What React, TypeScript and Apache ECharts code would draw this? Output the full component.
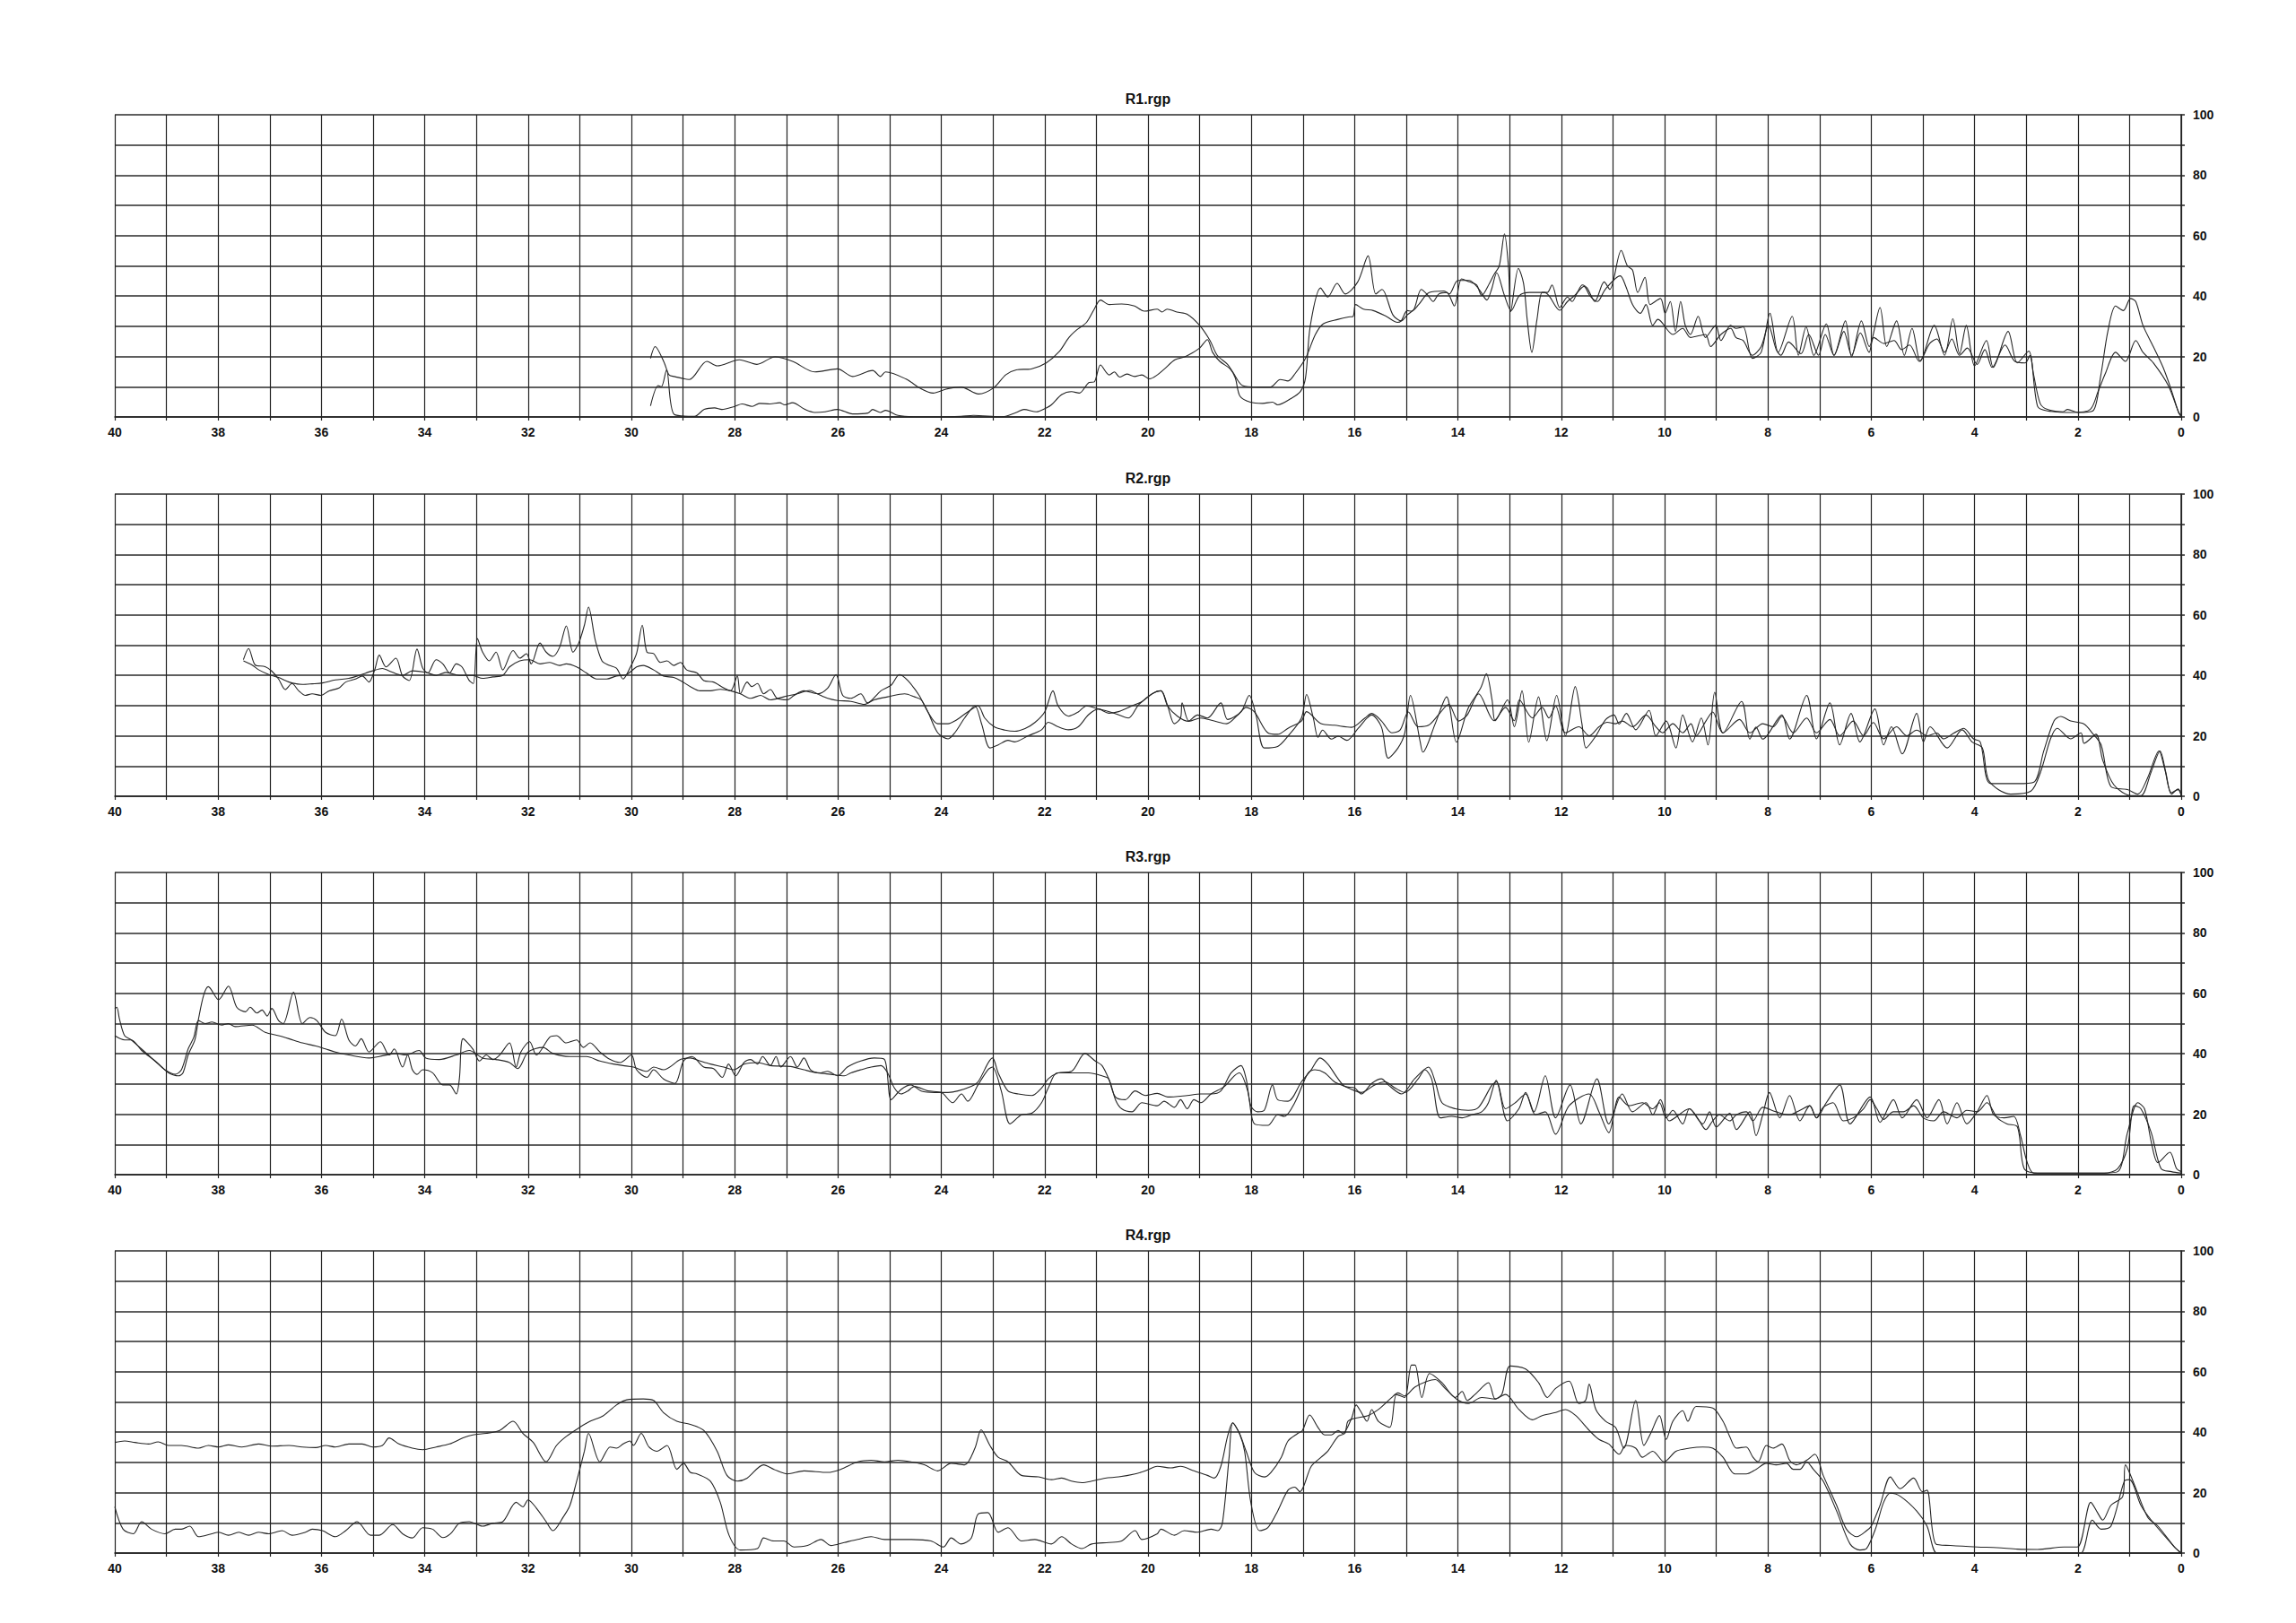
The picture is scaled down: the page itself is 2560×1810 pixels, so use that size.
import { useEffect, useRef } from 'react'
import * as echarts from 'echarts'

type Pt = [number, number]

// titles of the four traces
const panelNames = ['R1.rgp', 'R2.rgp', 'R3.rgp', 'R4.rgp']

// R1: [time, value]
const r1a: Pt[] = [
  [29.63, 19.4], [29.54, 23.3], [29.37, 18.2], [29.27, 13.9], [29.17, 13.4], [28.88, 12.4], [28.54, 18.4], [28.34, 16.9],
  [27.91, 18.9], [27.57, 17.4], [27.22, 19.9], [26.88, 18.4], [26.45, 14.9], [26.01, 15.9], [25.72, 13.4], [25.33, 15.4],
  [25.18, 13.4], [25.08, 14.9], [24.69, 12.6], [24.4, 9.4], [24.16, 7.9], [23.91, 9.2], [23.62, 9.9], [23.28, 7.6],
  [22.99, 9.6], [22.75, 14.0], [22.55, 15.6], [22.26, 15.9], [21.97, 17.9], [21.72, 21.6], [21.53, 26.3], [21.38, 28.8],
  [21.19, 31.3], [21.04, 35.7], [20.92, 38.7], [20.75, 37.2], [20.51, 37.4], [20.26, 36.7], [20.07, 35.0], [19.82, 35.7],
  [19.73, 34.7], [19.63, 35.7], [19.44, 34.7], [19.24, 34.0], [19.0, 30.3], [18.8, 25.3], [18.66, 20.4], [18.46, 17.4],
  [18.36, 14.9], [18.17, 10.4], [17.88, 9.9], [17.63, 9.9], [17.44, 12.4], [17.29, 11.9], [17.15, 14.4], [16.95, 19.4],
  [16.76, 27.3], [16.61, 30.8], [16.32, 32.3], [16.12, 33.1], [16.03, 33.3], [15.98, 37.2], [15.83, 35.7], [15.64, 35.2],
  [15.39, 33.3], [15.17, 31.3], [15.1, 31.8], [14.98, 35.2], [14.9, 35.0], [14.76, 37.2], [14.56, 41.2], [14.27, 41.7],
  [14.17, 40.7], [14.0, 45.2], [13.78, 45.2], [13.59, 42.2], [13.44, 38.7], [13.35, 42.2], [13.25, 47.7], [13.1, 40.2],
  [12.97, 35.2], [12.81, 40.2], [12.61, 41.2], [12.32, 41.2], [12.03, 35.3], [11.88, 38.2], [11.74, 40.2], [11.56, 43.2],
  [11.45, 40.2], [11.3, 38.2], [11.15, 42.2], [10.86, 46.7], [10.75, 43.2], [10.62, 37.2], [10.47, 34.3], [10.36, 37.2],
  [10.23, 30.3], [10.13, 32.3], [9.84, 27.3], [9.65, 29.3], [9.5, 26.3], [9.21, 27.3], [9.11, 23.3], [8.91, 27.3],
  [8.72, 29.3], [8.62, 26.3], [8.48, 25.3], [8.3, 20.4], [8.13, 23.3], [7.99, 30.3], [7.84, 22.3], [7.75, 20.4],
  [7.6, 24.8], [7.36, 20.9], [7.21, 27.3], [7.02, 20.4], [6.89, 27.3], [6.72, 20.4], [6.53, 28.3], [6.38, 20.4],
  [6.21, 27.8], [6.04, 21.4], [5.95, 26.3], [5.75, 24.3], [5.56, 25.3], [5.41, 22.3], [5.26, 23.8], [5.07, 18.4],
  [4.87, 24.3], [4.73, 25.8], [4.58, 21.4], [4.44, 25.8], [4.29, 20.4], [4.14, 22.8], [3.95, 17.4], [3.8, 22.3],
  [3.66, 16.4], [3.41, 23.8], [3.22, 18.4], [3.02, 17.9], [2.93, 20.4], [2.78, 3.5], [2.59, 2.0], [2.1, 1.5],
  [1.76, 2.5], [1.61, 8.4], [1.47, 14.3], [1.27, 21.4], [1.08, 18.4], [0.88, 25.3], [0.74, 21.4], [0.54, 17.9],
  [0.25, 10.4], [0.05, 1.5], [0, 0],
]

const r1b: Pt[] = [
  [29.63, 3.7], [29.48, 10.4], [29.42, 10.0], [29.32, 15.6], [29.17, 0.8], [28.78, 0.2], [28.59, 2.5], [28.39, 3.0],
  [28.25, 2.5], [28.0, 3.5], [27.86, 4.3], [27.66, 3.5], [27.52, 4.5], [27.32, 4.3], [27.13, 4.7], [27.03, 4.0],
  [26.88, 4.7], [26.64, 2.5], [26.45, 1.5], [26.25, 1.7], [26.01, 2.5], [25.72, 1.0], [25.42, 1.3], [25.33, 2.5],
  [25.18, 1.5], [25.08, 2.2], [24.84, 0.5], [24.4, 0.0], [24.01, 0.0], [23.62, 0.2], [23.38, 0.5], [22.84, 0.0],
  [22.55, 1.5], [22.4, 2.5], [22.16, 1.7], [21.97, 3.0], [21.87, 4.0], [21.67, 7.4], [21.48, 8.4], [21.33, 7.9],
  [21.14, 11.4], [21.04, 11.6], [20.92, 17.2], [20.75, 13.9], [20.65, 14.9], [20.55, 13.2], [20.41, 14.2], [20.26, 13.4],
  [20.12, 13.9], [19.97, 12.6], [19.82, 13.9], [19.68, 15.9], [19.48, 18.9], [19.29, 19.9], [19.14, 21.2], [19.0, 22.8],
  [18.85, 25.6], [18.75, 21.4], [18.61, 18.4], [18.41, 15.9], [18.31, 12.9], [18.22, 6.9], [18.02, 4.9], [17.78, 4.5],
  [17.59, 4.9], [17.49, 4.0], [17.24, 6.0], [17.05, 8.4], [16.95, 13.0], [16.86, 30.0], [16.66, 42.7], [16.52, 39.7],
  [16.34, 44.2], [16.18, 40.7], [15.94, 44.7], [15.74, 53.3], [15.59, 40.7], [15.47, 42.2], [15.26, 33.8], [15.1, 31.8],
  [14.98, 33.8], [14.85, 35.7], [14.71, 42.2], [14.58, 40.2], [14.48, 38.2], [14.37, 40.7], [14.22, 41.2], [14.07, 36.7],
  [13.93, 45.7], [13.78, 44.7], [13.64, 43.7], [13.54, 40.2], [13.39, 44.2], [13.3, 47.2], [13.2, 50.0], [13.1, 60.6],
  [13.02, 49.2], [12.98, 34.8], [12.83, 49.2], [12.73, 44.2], [12.66, 32.3], [12.57, 21.4], [12.47, 32.3], [12.37, 41.2],
  [12.27, 41.2], [12.18, 43.7], [12.03, 36.2], [11.88, 39.7], [11.79, 38.2], [11.69, 41.2], [11.59, 43.7], [11.5, 42.7],
  [11.35, 38.2], [11.17, 44.7], [11.06, 42.2], [10.84, 55.1], [10.72, 50.0], [10.62, 48.6], [10.52, 41.2], [10.38, 46.2],
  [10.28, 37.2], [10.08, 39.2], [9.99, 34.3], [9.89, 38.2], [9.79, 28.3], [9.69, 38.2], [9.6, 30.3], [9.5, 27.3],
  [9.35, 33.3], [9.21, 26.3], [9.01, 30.3], [8.91, 25.3], [8.72, 30.3], [8.62, 29.3], [8.48, 29.8], [8.3, 19.4],
  [8.13, 21.4], [7.96, 34.3], [7.8, 21.4], [7.53, 33.3], [7.41, 20.4], [7.26, 29.8], [7.11, 20.4], [6.87, 30.8],
  [6.72, 20.4], [6.5, 31.8], [6.38, 19.9], [6.19, 31.8], [6.04, 23.3], [5.83, 36.2], [5.7, 23.3], [5.51, 31.8],
  [5.36, 20.4], [5.21, 29.3], [5.05, 18.4], [4.78, 30.3], [4.58, 20.4], [4.42, 32.5], [4.29, 20.9], [4.16, 30.3],
  [4.0, 16.9], [3.77, 25.3], [3.64, 16.4], [3.35, 28.3], [3.17, 17.9], [2.95, 21.8], [2.86, 14.3], [2.73, 4.5],
  [2.59, 2.5], [2.29, 1.7], [2.2, 2.5], [2.0, 1.5], [1.71, 2.0], [1.56, 13.4], [1.42, 28.3], [1.27, 36.7],
  [1.12, 35.2], [0.98, 39.2], [0.88, 38.2], [0.74, 30.3], [0.54, 23.3], [0.35, 16.4], [0.2, 9.4], [0.05, 1.5], [0, 0.5],
]

// R2
const r2a: Pt[] = [
  [37.51, 45.2], [37.41, 48.9], [37.28, 43.4], [37.09, 42.9], [36.96, 41.4], [36.83, 38.8], [36.7, 35.3], [36.57, 37.3],
  [36.44, 34.9], [36.31, 33.4], [36.18, 33.9], [36.01, 33.4], [35.85, 34.9], [35.66, 35.8], [35.53, 37.8], [35.34, 38.8],
  [35.21, 39.8], [35.08, 37.8], [34.97, 41.8], [34.88, 46.7], [34.75, 42.8], [34.56, 45.7], [34.43, 39.8], [34.3, 38.3],
  [34.15, 48.7], [34.04, 42.4], [33.94, 40.8], [33.78, 45.2], [33.65, 43.8], [33.52, 40.8], [33.39, 43.8], [33.28, 42.8],
  [33.14, 38.3], [33.06, 37.3], [32.98, 52.2], [32.88, 47.7], [32.75, 44.8], [32.62, 47.7], [32.49, 41.8], [32.29, 48.2],
  [32.16, 45.7], [32.03, 47.2], [31.94, 43.8], [31.77, 50.7], [31.65, 47.7], [31.52, 46.3], [31.39, 49.3], [31.26, 56.4],
  [31.13, 47.7], [31.02, 50.7], [30.91, 56.6], [30.83, 62.6], [30.7, 51.7], [30.57, 44.8], [30.44, 43.4], [30.29, 42.4],
  [30.16, 38.8], [30.03, 42.4], [29.9, 47.3], [29.79, 56.6], [29.7, 47.7], [29.57, 47.2], [29.44, 44.3], [29.31, 44.8],
  [29.18, 43.3], [29.05, 44.3], [28.93, 41.8], [28.73, 40.8], [28.6, 38.3], [28.41, 37.8], [28.21, 35.8], [28.08, 34.9],
  [27.95, 39.8], [27.89, 33.9], [27.76, 37.8], [27.67, 36.3], [27.56, 37.3], [27.44, 33.9], [27.31, 35.3], [27.18, 32.4],
  [26.98, 31.9], [26.85, 33.4], [26.66, 34.9], [26.4, 33.9], [26.2, 35.8], [26.04, 40.3], [25.91, 33.4], [25.75, 32.4],
  [25.56, 33.9], [25.43, 30.9], [25.17, 34.9], [24.97, 36.8], [24.81, 40.3], [24.65, 38.3], [24.43, 33.4], [24.26, 27.9],
  [24.07, 24.0], [23.87, 24.0], [23.74, 24.9], [23.49, 27.9], [23.29, 29.9], [23.16, 25.9], [22.97, 22.9], [22.77, 21.9],
  [22.58, 21.5], [22.38, 22.4], [22.19, 24.4], [22.0, 27.9], [21.84, 34.9], [21.74, 29.9], [21.54, 26.5], [21.35, 27.9],
  [21.19, 29.9], [20.96, 28.9], [20.64, 27.4], [20.38, 25.9], [20.18, 30.3], [19.92, 33.9], [19.75, 34.9], [19.62, 29.9],
  [19.49, 24.0], [19.37, 25.9], [19.34, 30.9], [19.21, 24.9], [19.04, 26.9], [18.85, 25.9], [18.59, 30.9], [18.46, 25.4],
  [18.2, 27.9], [18.04, 33.4], [17.91, 26.9], [17.75, 16.0], [17.49, 16.5], [17.29, 19.9], [17.03, 25.9], [16.93, 33.7],
  [16.8, 25.9], [16.71, 19.5], [16.62, 21.9], [16.45, 18.9], [16.32, 19.9], [16.15, 18.5], [15.93, 22.5], [15.67, 26.9],
  [15.48, 22.9], [15.35, 12.6], [15.16, 16.0], [15.03, 20.9], [14.92, 33.4], [14.73, 17.9], [14.68, 14.6], [14.44, 24.0],
  [14.22, 32.9], [14.03, 17.9], [13.8, 29.2], [13.56, 35.8], [13.45, 40.6], [13.34, 31.9], [13.28, 25.0], [13.04, 31.9],
  [12.91, 23.0], [12.76, 34.9], [12.63, 17.9], [12.44, 32.9], [12.28, 18.4], [12.09, 33.4], [11.92, 20.0], [11.73, 36.3],
  [11.6, 24.0], [11.52, 16.0], [11.33, 20.0], [11.14, 25.4], [10.98, 26.9], [10.88, 23.9], [10.74, 27.4], [10.56, 22.0],
  [10.3, 28.4], [10.17, 20.0], [9.97, 24.9], [9.78, 16.0], [9.65, 26.9], [9.46, 18.0], [9.29, 25.9], [9.16, 17.0],
  [9.03, 34.4], [8.87, 20.9], [8.51, 31.4], [8.35, 18.9], [8.23, 22.9], [8.1, 18.9], [7.73, 26.9], [7.58, 18.9],
  [7.25, 33.4], [7.06, 19.0], [6.8, 30.9], [6.61, 17.0], [6.39, 27.4], [6.22, 18.0], [5.93, 28.9], [5.76, 17.0],
  [5.61, 23.0], [5.4, 14.0], [5.12, 27.4], [4.99, 18.0], [4.86, 23.0], [4.53, 16.0], [4.24, 22.0], [4.05, 18.0],
  [3.85, 16.0], [3.72, 5.1], [3.3, 0.7], [2.91, 1.7], [2.72, 8.1], [2.53, 19.0], [2.4, 22.5], [2.14, 19.0],
  [1.94, 21.0], [1.88, 17.5], [1.65, 20.5], [1.52, 12.0], [1.3, 3.7], [0.97, 0.2], [0.78, 0.2], [0.58, 8.1],
  [0.41, 15.0], [0.3, 8.1], [0.19, 0.7], [0.06, 2.4], [0, 0.2],
]

const r2b: Pt[] = [
  [37.51, 44.8], [37.34, 43.4], [37.21, 41.8], [37.02, 40.3], [36.83, 39.3], [36.63, 37.8], [36.37, 37.0], [36.18, 37.2],
  [35.98, 37.5], [35.73, 38.5], [35.47, 39.0], [35.27, 40.0], [35.01, 41.5], [34.82, 42.3], [34.69, 41.5], [34.43, 40.0],
  [34.24, 41.5], [33.98, 41.0], [33.78, 40.0], [33.59, 41.0], [33.33, 40.0], [33.07, 40.0], [32.88, 39.0], [32.68, 39.5],
  [32.49, 40.0], [32.36, 42.8], [32.16, 44.8], [31.97, 45.2], [31.77, 43.8], [31.58, 44.3], [31.39, 43.3], [31.26, 43.8],
  [31.06, 42.8], [30.87, 40.8], [30.67, 38.8], [30.48, 38.8], [30.29, 39.8], [30.09, 40.3], [29.9, 42.8], [29.77, 43.3],
  [29.57, 41.8], [29.38, 39.8], [29.18, 39.3], [29.05, 38.3], [28.86, 36.3], [28.67, 34.9], [28.47, 34.9], [28.28, 35.4],
  [28.08, 34.9], [27.89, 33.9], [27.69, 32.4], [27.5, 33.4], [27.31, 31.9], [27.05, 32.9], [26.79, 33.9], [26.55, 35.0],
  [26.4, 33.9], [26.2, 32.4], [26.01, 31.7], [25.75, 31.4], [25.49, 30.4], [25.3, 31.9], [25.04, 32.9], [24.71, 33.9],
  [24.52, 32.9], [24.39, 31.9], [24.26, 27.9], [24.07, 21.0], [23.87, 19.0], [23.74, 21.0], [23.55, 25.9], [23.35, 29.9],
  [23.22, 23.9], [23.06, 16.0], [22.9, 17.0], [22.71, 18.5], [22.58, 18.0], [22.32, 20.0], [22.06, 22.0], [21.93, 24.5],
  [21.74, 23.0], [21.54, 22.0], [21.35, 23.0], [21.15, 27.0], [20.96, 28.9], [20.76, 27.5], [20.57, 28.0], [20.31, 29.9],
  [20.11, 31.4], [19.92, 33.9], [19.75, 34.9], [19.62, 29.9], [19.43, 26.5], [19.21, 24.8], [18.98, 25.9], [18.72, 24.9],
  [18.48, 24.0], [18.26, 26.9], [18.1, 29.4], [17.94, 27.9], [17.68, 21.0], [17.49, 20.5], [17.29, 22.5], [17.03, 24.9],
  [16.93, 28.0], [16.65, 24.0], [16.39, 23.5], [16.06, 22.8], [15.8, 25.9], [15.67, 27.4], [15.48, 24.9], [15.28, 21.0],
  [15.12, 21.9], [14.96, 27.9], [14.77, 23.0], [14.57, 23.5], [14.38, 26.9], [14.18, 30.4], [13.99, 24.9], [13.82, 26.9],
  [13.6, 33.9], [13.3, 25.0], [13.08, 29.4], [12.91, 25.0], [12.81, 31.9], [12.56, 25.9], [12.37, 29.4], [12.24, 25.9],
  [12.11, 29.9], [11.92, 21.0], [11.66, 23.0], [11.46, 20.0], [11.27, 23.0], [11.11, 24.5], [10.95, 24.0], [10.82, 24.9],
  [10.62, 23.0], [10.36, 26.9], [10.17, 23.0], [10.04, 21.0], [9.84, 24.0], [9.65, 21.0], [9.49, 24.0], [9.39, 20.0],
  [9.2, 24.9], [9.07, 27.9], [8.87, 21.0], [8.55, 25.4], [8.35, 21.0], [8.1, 24.0], [7.9, 23.0], [7.73, 26.4],
  [7.51, 21.0], [7.25, 25.9], [7.06, 21.0], [6.8, 25.4], [6.61, 20.0], [6.35, 24.9], [6.15, 20.0], [5.96, 24.4],
  [5.76, 19.0], [5.51, 23.0], [5.31, 20.0], [5.12, 21.9], [4.92, 20.0], [4.73, 20.9], [4.6, 19.0], [4.4, 20.9],
  [4.21, 22.5], [4.02, 19.0], [3.89, 18.0], [3.69, 4.2], [3.17, 4.2], [2.85, 4.7], [2.66, 15.0], [2.46, 25.0],
  [2.33, 26.4], [2.14, 24.9], [1.88, 23.9], [1.72, 20.9], [1.55, 17.0], [1.36, 3.2], [1.04, 2.2], [0.84, 0.7],
  [0.65, 6.1], [0.43, 15.0], [0.32, 9.1], [0.19, 1.2], [0.06, 2.2], [0, 0.7],
]

// R3
const r3a: Pt[] = [
  [40.0, 54.9], [39.96, 55.4], [39.91, 51.5], [39.81, 46.0], [39.68, 44.6], [39.55, 42.6], [39.35, 39.6], [39.09, 35.6],
  [38.96, 33.7], [38.77, 32.7], [38.68, 33.7], [38.58, 39.6], [38.45, 44.6], [38.38, 51.5], [38.28, 59.4], [38.19, 62.2],
  [37.99, 57.9], [37.8, 62.4], [37.64, 55.4], [37.47, 53.9], [37.38, 55.4], [37.25, 53.5], [37.15, 54.5], [37.05, 52.5],
  [36.96, 55.0], [36.83, 51.0], [36.74, 50.0], [36.54, 60.4], [36.37, 50.0], [36.22, 52.0], [36.09, 51.0], [35.92, 47.1],
  [35.73, 46.0], [35.61, 51.5], [35.47, 44.6], [35.34, 42.6], [35.23, 45.0], [35.08, 40.6], [34.86, 44.0], [34.69, 39.6],
  [34.59, 41.6], [34.43, 35.6], [34.33, 39.6], [34.24, 34.7], [34.15, 33.2], [34.04, 34.7], [33.85, 33.7], [33.65, 29.7],
  [33.52, 29.7], [33.39, 26.7], [33.33, 31.7], [33.26, 45.0], [33.07, 41.6], [32.94, 37.6], [32.81, 39.6], [32.68, 38.1],
  [32.55, 39.6], [32.36, 43.6], [32.23, 35.6], [32.14, 40.6], [31.97, 44.0], [31.84, 39.6], [31.58, 45.5], [31.45, 46.0],
  [31.26, 43.6], [31.06, 44.6], [30.93, 42.1], [30.8, 43.6], [30.61, 40.6], [30.41, 38.1], [30.22, 37.1], [30.0, 39.6],
  [29.9, 34.7], [29.7, 32.2], [29.57, 34.7], [29.38, 31.7], [29.16, 30.2], [28.99, 37.6], [28.83, 39.1], [28.6, 35.6],
  [28.41, 35.1], [28.24, 32.2], [28.12, 36.6], [27.98, 32.7], [27.82, 37.1], [27.69, 38.1], [27.56, 36.6], [27.46, 39.1],
  [27.31, 36.1], [27.2, 39.1], [27.11, 35.6], [26.92, 39.1], [26.79, 35.6], [26.66, 38.6], [26.53, 34.7], [26.33, 33.7],
  [26.2, 34.2], [26.01, 32.7], [25.82, 35.6], [25.56, 37.6], [25.3, 38.6], [25.1, 38.1], [24.97, 24.8], [24.78, 28.2],
  [24.59, 29.7], [24.39, 27.7], [24.13, 27.2], [23.87, 27.2], [23.68, 27.7], [23.42, 29.2], [23.29, 30.7], [23.01, 38.6],
  [22.9, 33.7], [22.71, 27.7], [22.51, 26.7], [22.25, 26.2], [22.06, 28.7], [21.93, 31.7], [21.74, 33.7], [21.48, 34.2],
  [21.22, 40.1], [21.02, 37.6], [20.89, 36.1], [20.76, 31.7], [20.63, 25.7], [20.44, 24.8], [20.25, 27.7], [20.05, 26.2],
  [19.82, 26.9], [19.62, 25.7], [19.24, 26.2], [18.98, 26.7], [18.78, 26.7], [18.59, 27.7], [18.39, 33.7], [18.2, 36.1],
  [18.1, 31.7], [18.01, 22.8], [17.88, 20.8], [17.75, 21.3], [17.59, 29.7], [17.49, 24.8], [17.29, 24.3], [17.03, 30.7],
  [16.84, 34.7], [16.67, 38.6], [16.52, 36.6], [16.32, 31.7], [16.19, 29.2], [16.0, 28.7], [15.87, 26.7], [15.67, 30.2],
  [15.48, 31.7], [15.35, 29.7], [15.09, 26.7], [14.84, 31.7], [14.57, 35.6], [14.44, 30.7], [14.31, 23.8], [14.05, 21.8],
  [13.8, 21.3], [13.6, 22.3], [13.34, 29.7], [13.25, 30.7], [13.08, 21.8], [12.89, 23.8], [12.69, 26.7], [12.53, 20.8],
  [12.31, 32.7], [12.11, 18.8], [11.83, 29.7], [11.62, 16.8], [11.31, 31.7], [11.08, 16.8], [10.82, 26.7], [10.62, 20.8],
  [10.36, 23.8], [10.23, 19.8], [10.08, 24.8], [9.91, 17.8], [9.52, 21.8], [9.26, 16.8], [9.13, 20.8], [9.0, 15.8],
  [8.74, 20.3], [8.61, 14.9], [8.35, 20.8], [8.23, 12.9], [8.1, 19.8], [7.97, 27.2], [7.77, 18.8], [7.58, 26.2],
  [7.38, 17.8], [7.19, 22.8], [7.06, 18.8], [6.87, 23.8], [6.61, 29.7], [6.41, 16.8], [6.02, 25.7], [5.83, 17.3],
  [5.57, 24.8], [5.4, 18.8], [5.12, 24.8], [4.92, 18.8], [4.69, 24.8], [4.53, 16.8], [4.34, 23.8], [4.15, 16.8],
  [3.95, 20.8], [3.76, 26.2], [3.63, 19.8], [3.43, 18.8], [3.24, 19.3], [3.11, 12.9], [2.98, 4.0], [2.85, 0.5],
  [1.88, 0.5], [1.49, 0.5], [1.23, 2.0], [1.04, 8.9], [0.91, 22.8], [0.78, 21.8], [0.58, 13.9], [0.39, 2.0],
  [0.19, 1.0], [0, 0.5],
]

const r3b: Pt[] = [
  [40.0, 46.0], [39.81, 44.6], [39.68, 44.6], [39.48, 41.1], [39.22, 37.6], [39.03, 34.7], [38.83, 33.2], [38.71, 34.7],
  [38.58, 41.6], [38.47, 45.5], [38.38, 51.0], [38.25, 50.0], [38.12, 50.5], [37.93, 49.5], [37.8, 50.0], [37.67, 49.0],
  [37.34, 49.5], [37.09, 47.1], [36.83, 46.0], [36.63, 45.0], [36.37, 43.6], [36.11, 42.6], [35.92, 41.6], [35.73, 40.6],
  [35.47, 39.6], [35.08, 38.6], [34.88, 39.1], [34.56, 40.1], [34.37, 39.6], [34.11, 41.1], [33.98, 38.6], [33.72, 38.1],
  [33.39, 39.6], [33.14, 41.1], [32.88, 38.6], [32.62, 38.1], [32.36, 37.1], [32.2, 35.1], [32.0, 40.6], [31.71, 42.1],
  [31.52, 40.1], [31.19, 39.1], [30.87, 39.1], [30.61, 37.6], [30.35, 36.6], [30.16, 36.1], [29.96, 35.6], [29.7, 34.2],
  [29.57, 35.6], [29.38, 34.7], [29.05, 38.1], [28.86, 38.6], [28.67, 37.6], [28.47, 36.6], [28.21, 35.6], [28.02, 34.7],
  [27.82, 36.6], [27.56, 37.1], [27.31, 36.1], [26.92, 35.8], [26.66, 34.7], [26.4, 33.7], [26.14, 33.2], [25.88, 32.7],
  [25.75, 33.7], [25.56, 34.7], [25.36, 35.6], [25.17, 36.1], [25.04, 33.7], [24.91, 28.7], [24.78, 26.7], [24.65, 27.7],
  [24.52, 29.2], [24.26, 27.7], [24.0, 27.2], [23.78, 23.8], [23.61, 26.7], [23.49, 24.3], [23.29, 29.7], [23.1, 34.7],
  [23.01, 35.6], [22.84, 27.7], [22.67, 16.8], [22.45, 19.8], [22.25, 20.3], [22.06, 23.8], [21.93, 28.7], [21.76, 33.7],
  [21.48, 33.7], [21.15, 33.7], [20.89, 32.7], [20.76, 31.7], [20.63, 24.8], [20.51, 21.8], [20.31, 20.8], [20.12, 23.8],
  [19.82, 22.8], [19.69, 24.3], [19.49, 22.3], [19.37, 24.8], [19.24, 21.8], [19.11, 24.8], [18.98, 23.8], [18.78, 26.7],
  [18.52, 29.2], [18.33, 32.7], [18.23, 33.7], [18.07, 27.7], [17.94, 16.8], [17.68, 16.3], [17.49, 19.8], [17.36, 19.3],
  [17.16, 23.8], [16.9, 33.7], [16.77, 34.7], [16.58, 33.7], [16.39, 30.7], [16.19, 29.2], [16.06, 28.2], [15.87, 27.2],
  [15.61, 29.7], [15.41, 30.7], [15.22, 28.7], [15.03, 27.2], [14.77, 31.7], [14.64, 34.7], [14.51, 31.7], [14.34, 18.8],
  [14.12, 19.3], [13.92, 18.8], [13.73, 19.8], [13.54, 20.8], [13.41, 23.8], [13.26, 31.2], [13.04, 17.8], [12.82, 21.8],
  [12.69, 27.2], [12.5, 19.8], [12.31, 20.8], [12.11, 13.4], [11.85, 22.8], [11.46, 26.7], [11.27, 20.8], [11.08, 13.9],
  [10.88, 25.7], [10.69, 22.8], [10.43, 23.8], [10.23, 21.8], [10.1, 23.8], [9.97, 18.8], [9.84, 21.3], [9.65, 16.8],
  [9.52, 21.8], [9.33, 17.8], [9.2, 14.9], [9.07, 17.8], [8.94, 19.8], [8.74, 17.8], [8.61, 19.8], [8.42, 20.8],
  [8.29, 17.8], [8.1, 22.3], [7.84, 20.8], [7.58, 19.8], [7.38, 21.3], [7.19, 22.8], [7.06, 18.8], [6.93, 22.3],
  [6.74, 23.8], [6.54, 17.8], [6.35, 18.8], [6.15, 21.8], [6.02, 24.8], [5.89, 21.8], [5.76, 18.3], [5.57, 20.8],
  [5.38, 20.8], [5.18, 22.8], [4.99, 18.8], [4.79, 17.8], [4.6, 20.8], [4.34, 18.8], [4.15, 21.3], [3.95, 20.8],
  [3.76, 23.8], [3.56, 18.8], [3.37, 16.8], [3.17, 15.8], [3.04, 2.0], [2.78, 0.5], [1.62, 0.5], [1.23, 1.0],
  [1.04, 13.9], [0.84, 23.8], [0.71, 21.8], [0.58, 10.9], [0.45, 4.0], [0.22, 7.4], [0.09, 2.0], [0, 1.0],
]

// R4
const r4a: Pt[] = [
  [40.0, 36.6], [39.81, 37.1], [39.61, 36.6], [39.35, 36.1], [39.16, 36.8], [38.96, 35.6], [38.71, 35.6], [38.38, 34.7],
  [38.19, 35.6], [37.99, 35.1], [37.8, 35.8], [37.54, 35.1], [37.22, 36.1], [36.96, 35.4], [36.63, 35.6], [36.37, 35.1],
  [36.11, 34.9], [35.92, 35.6], [35.73, 35.1], [35.47, 36.1], [35.21, 36.1], [35.01, 35.1], [34.82, 35.6], [34.69, 38.1],
  [34.5, 36.1], [34.24, 34.7], [34.04, 34.2], [33.78, 35.1], [33.52, 36.1], [33.26, 38.1], [33.07, 39.1], [32.81, 39.6],
  [32.55, 40.6], [32.29, 43.6], [32.1, 39.6], [31.9, 36.6], [31.65, 30.2], [31.45, 35.6], [31.26, 38.6], [31.0, 41.6],
  [30.8, 43.6], [30.54, 45.5], [30.29, 49.0], [30.09, 50.7], [29.77, 51.0], [29.57, 50.5], [29.38, 46.5], [29.12, 43.6],
  [28.86, 42.6], [28.6, 40.6], [28.34, 33.7], [28.15, 25.7], [27.95, 23.8], [27.76, 24.8], [27.44, 29.2], [27.24, 27.7],
  [26.98, 26.2], [26.66, 27.2], [26.2, 26.7], [25.95, 27.7], [25.62, 30.2], [25.36, 30.7], [25.1, 30.2], [24.84, 30.7],
  [24.59, 30.2], [24.33, 29.2], [24.07, 27.2], [23.81, 29.7], [23.55, 29.2], [23.35, 34.7], [23.23, 40.8], [23.06, 35.6],
  [22.9, 31.7], [22.71, 30.2], [22.45, 25.7], [22.12, 25.2], [21.87, 24.3], [21.67, 24.8], [21.48, 23.8], [21.28, 23.3],
  [21.09, 23.8], [20.83, 24.8], [20.57, 25.2], [20.25, 26.2], [20.05, 27.2], [19.82, 28.7], [19.56, 28.2], [19.37, 28.7],
  [19.11, 27.2], [18.85, 25.7], [18.72, 24.8], [18.59, 28.7], [18.46, 38.6], [18.36, 43.1], [18.23, 39.6], [18.1, 33.7],
  [17.94, 26.7], [17.75, 25.2], [17.62, 26.7], [17.42, 31.7], [17.29, 37.1], [17.1, 39.6], [17.01, 40.6], [16.87, 45.7],
  [16.71, 41.6], [16.58, 39.1], [16.45, 39.1], [16.32, 40.6], [16.23, 39.6], [16.06, 44.6], [15.97, 49.0], [15.87, 46.5],
  [15.76, 43.6], [15.67, 47.5], [15.54, 43.6], [15.32, 41.6], [15.19, 52.5], [15.03, 51.5], [14.9, 62.2], [14.83, 62.2],
  [14.7, 51.5], [14.55, 59.4], [14.31, 56.4], [14.05, 51.5], [13.92, 53.5], [13.82, 50.5], [13.67, 52.5], [13.41, 56.4],
  [13.28, 51.0], [13.15, 52.5], [12.99, 61.9], [12.69, 60.9], [12.44, 56.4], [12.27, 51.5], [12.11, 54.5], [11.85, 56.9],
  [11.66, 49.5], [11.53, 50.5], [11.46, 55.9], [11.33, 47.5], [11.14, 43.6], [10.95, 41.6], [10.79, 34.7], [10.56, 50.5],
  [10.4, 35.6], [10.27, 39.6], [10.1, 45.5], [9.97, 37.6], [9.84, 43.6], [9.65, 47.1], [9.55, 43.6], [9.39, 48.5],
  [9.07, 48.0], [8.87, 43.6], [8.74, 38.6], [8.61, 34.7], [8.42, 35.1], [8.29, 31.7], [8.19, 30.2], [8.03, 35.6],
  [7.9, 34.7], [7.73, 36.1], [7.58, 30.7], [7.45, 29.2], [7.25, 30.7], [7.09, 32.7], [6.93, 25.7], [6.67, 15.8],
  [6.48, 7.9], [6.28, 5.4], [6.09, 7.4], [6.0, 8.9], [5.83, 15.8], [5.63, 25.2], [5.44, 21.3], [5.18, 24.8],
  [5.01, 20.3], [4.92, 20.8], [4.75, 3.0], [4.47, 2.5], [3.95, 2.0], [3.56, 1.8], [3.17, 1.3], [2.78, 1.2],
  [2.27, 2.0], [2.01, 2.0], [1.75, 16.8], [1.62, 13.4], [1.52, 10.9], [1.36, 15.8], [1.13, 18.8], [1.08, 29.2],
  [0.91, 22.8], [0.65, 11.9], [0.45, 8.9], [0.13, 2.0], [0, 0],
]

const r4b: Pt[] = [
  [40.0, 15.3], [39.84, 7.9], [39.64, 6.4], [39.48, 10.4], [39.29, 7.9], [39.03, 6.4], [38.83, 7.9], [38.71, 7.9],
  [38.55, 8.9], [38.38, 5.4], [38.12, 6.4], [37.99, 6.9], [37.8, 5.9], [37.6, 6.9], [37.41, 5.9], [37.22, 6.9],
  [37.02, 6.4], [36.76, 7.4], [36.57, 5.9], [36.31, 6.9], [36.18, 7.9], [35.98, 7.4], [35.73, 5.4], [35.53, 7.4],
  [35.31, 10.4], [35.05, 5.9], [34.88, 5.9], [34.62, 9.4], [34.43, 6.4], [34.24, 5.0], [34.04, 8.4], [33.85, 7.9],
  [33.65, 5.1], [33.5, 6.4], [33.33, 9.9], [33.14, 10.4], [32.88, 8.9], [32.68, 9.9], [32.49, 10.4], [32.23, 16.8],
  [32.1, 15.3], [32.0, 17.6], [31.84, 14.9], [31.65, 10.4], [31.52, 7.4], [31.32, 11.9], [31.19, 15.8], [31.06, 23.8],
  [30.91, 33.7], [30.83, 39.6], [30.61, 30.2], [30.41, 35.1], [30.29, 34.7], [30.16, 36.1], [30.03, 37.1], [29.96, 35.6],
  [29.81, 39.6], [29.66, 35.1], [29.51, 33.7], [29.31, 35.6], [29.12, 27.7], [28.99, 29.7], [28.86, 26.7], [28.73, 26.2],
  [28.47, 23.8], [28.28, 16.8], [28.11, 5.9], [27.89, 1.0], [27.56, 1.5], [27.44, 5.0], [27.24, 4.0], [27.05, 4.0],
  [26.85, 2.0], [26.59, 2.5], [26.33, 4.5], [26.14, 2.5], [25.88, 3.5], [25.62, 4.5], [25.36, 5.4], [25.1, 4.5],
  [24.59, 4.5], [24.2, 4.0], [23.96, 2.0], [23.81, 5.0], [23.62, 3.0], [23.42, 5.0], [23.29, 12.9], [23.1, 13.4],
  [22.9, 6.9], [22.71, 8.4], [22.45, 4.0], [22.19, 4.5], [21.87, 3.0], [21.67, 5.4], [21.48, 3.0], [21.28, 1.5],
  [21.09, 3.0], [20.76, 3.5], [20.51, 4.0], [20.25, 7.4], [20.12, 4.5], [19.82, 6.4], [19.75, 7.9], [19.49, 5.9],
  [19.3, 7.4], [19.04, 6.9], [18.78, 7.9], [18.65, 7.4], [18.56, 9.9], [18.43, 31.7], [18.36, 43.1], [18.23, 39.6],
  [18.13, 33.7], [18.01, 16.8], [17.84, 7.4], [17.68, 8.4], [17.49, 13.9], [17.29, 20.8], [17.16, 21.8], [17.06, 20.3],
  [16.84, 28.7], [16.65, 31.7], [16.52, 33.7], [16.32, 38.6], [16.19, 39.6], [16.13, 43.6], [16.0, 44.6], [15.74, 45.5],
  [15.54, 47.5], [15.28, 51.5], [15.16, 53.0], [15.03, 52.0], [14.83, 55.0], [14.44, 57.4], [14.25, 54.5], [13.99, 50.5],
  [13.8, 49.5], [13.54, 51.5], [13.28, 51.0], [13.08, 52.5], [12.82, 47.5], [12.56, 44.1], [12.37, 45.5], [12.11, 46.5],
  [11.92, 47.5], [11.72, 45.5], [11.46, 40.6], [11.27, 37.6], [11.08, 36.1], [10.88, 32.7], [10.75, 35.6], [10.56, 34.7],
  [10.43, 31.7], [10.23, 33.7], [10.01, 30.2], [9.78, 33.7], [9.52, 34.7], [9.26, 35.1], [9.07, 34.7], [8.87, 31.7],
  [8.64, 26.2], [8.42, 26.2], [8.23, 27.7], [8.03, 29.7], [7.84, 29.2], [7.64, 29.7], [7.51, 27.7], [7.38, 27.7],
  [7.25, 30.2], [7.12, 27.7], [6.93, 23.8], [6.67, 13.9], [6.41, 3.0], [6.22, 1.0], [6.09, 1.5], [5.92, 7.9],
  [5.76, 16.8], [5.63, 19.8], [5.44, 18.8], [5.12, 13.9], [4.92, 8.9], [4.73, 0.0], [4.47, 0.0], [2.14, 0.0],
  [1.94, 0.0], [1.72, 10.9], [1.55, 7.9], [1.36, 8.9], [1.1, 23.8], [1.0, 24.3], [0.78, 15.8], [0.58, 10.9],
  [0.13, 2.0], [0, 0],
]

const traces: Pt[][][] = [
  [r1a, r1b],
  [r2a, r2b],
  [r3a, r3b],
  [r4a, r4b],
]

const FONT = '"Liberation Sans", Arial, sans-serif'
const GRID_TOPS = [128, 551, 973, 1395]
const GRID_H = 337

export default function App() {
  const chartRef = useRef<HTMLDivElement>(null)

  useEffect(() => {
    if (!chartRef.current) return
    document.body.style.margin = '0'
    const chart = echarts.init(chartRef.current, null, { renderer: 'svg' })

    const option: echarts.EChartsOption = {
      animation: false,
      backgroundColor: '#fff',
      textStyle: { fontFamily: FONT },
      title: panelNames.map((name, i) => ({
        text: name,
        left: 'center',
        top: GRID_TOPS[i] - 31,
        textStyle: { fontSize: 16, fontWeight: 'bold', color: '#111', fontFamily: FONT },
      })),
      grid: GRID_TOPS.map((top) => ({ left: 128, width: 2304, top, height: GRID_H })),
      xAxis: GRID_TOPS.map((_, i) => ({
        type: 'value',
        gridIndex: i,
        min: 0,
        max: 40,
        interval: 1,
        inverse: true,
        axisLine: { show: true, onZero: false, lineStyle: { color: '#222', width: 1.5 } },
        axisTick: { show: true, length: 4, lineStyle: { color: '#222', width: 1.2 } },
        axisLabel: {
          margin: 10,
          fontSize: 14,
          fontWeight: 'bold',
          color: '#111',
          fontFamily: FONT,
          formatter: (v: number) => (v % 2 === 0 ? String(v) : ''),
        },
        splitLine: { show: true, lineStyle: { color: '#222', width: 1.2 } },
      })),
      yAxis: GRID_TOPS.map((_, i) => ({
        type: 'value',
        gridIndex: i,
        position: 'right',
        min: 0,
        max: 100,
        interval: 10,
        axisLine: { show: true, lineStyle: { color: '#222', width: 1.5 } },
        axisTick: { show: true, length: 4, lineStyle: { color: '#222', width: 1.5 } },
        axisLabel: {
          margin: 13,
          fontSize: 14,
          fontWeight: 'bold',
          color: '#111',
          fontFamily: FONT,
          formatter: (v: number) => (v % 20 === 0 ? String(v) : ''),
        },
        splitLine: { show: true, lineStyle: { color: '#2a2a2a', width: 1.6 } },
      })),
      series: traces.flatMap((pair, i) =>
        pair.map((data) => ({
          type: 'line' as const,
          xAxisIndex: i,
          yAxisIndex: i,
          data,
          showSymbol: false,
          symbol: 'none',
          smooth: 0.3,
          lineStyle: { color: '#262626', width: 1.1 },
          silent: true,
        })),
      ),
    }

    chart.setOption(option)
    return () => chart.dispose()
  }, [])

  return (
    <div
      ref={chartRef}
      style={{ position: 'absolute', left: 0, top: 0, width: 2560, height: 1810, background: '#fff' }}
    />
  )
}
